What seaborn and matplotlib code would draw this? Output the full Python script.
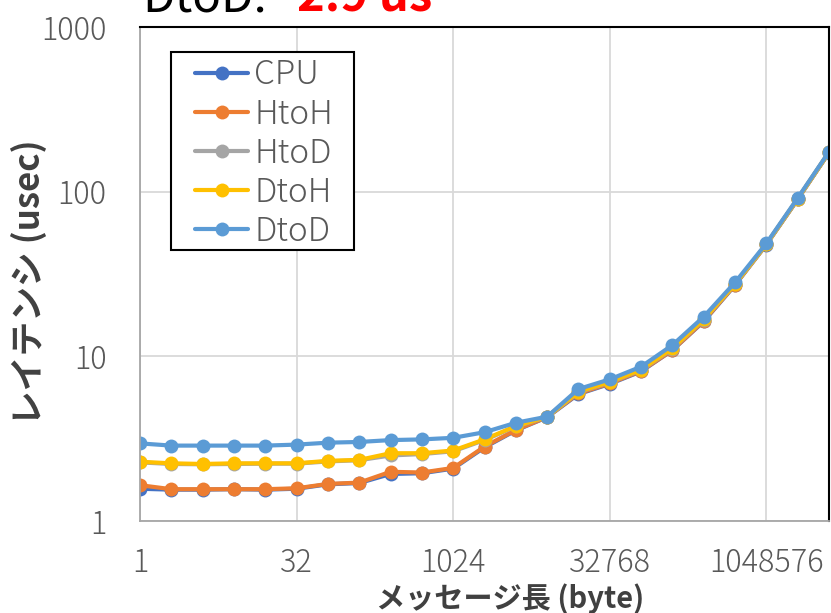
import matplotlib
matplotlib.use("Agg")
import matplotlib.pyplot as plt
import matplotlib.ticker as mticker
from matplotlib.patches import Rectangle
import pandas as pd
import seaborn as sns

# message sizes (byte) and latencies (usec)
sizes = [1, 2, 4, 8, 16, 32, 64, 128, 256, 512, 1024, 2048, 4096, 8192,
         16384, 32768, 65536, 131072, 262144, 524288, 1048576, 2097152, 4194304]
cpu = [1.57, 1.55, 1.55, 1.56, 1.55, 1.57, 1.67, 1.70, 1.93, 1.95, 2.08, 2.80,
       3.55, 4.27, 5.90, 6.80, 8.10, 10.9, 16.3, 27.1, 47.7, 89.9, 172.8]
htoh = [1.65, 1.56, 1.56, 1.56, 1.56, 1.58, 1.68, 1.71, 1.99, 1.97, 2.10, 2.83,
        3.57, 4.28, 5.95, 6.85, 8.15, 10.9, 16.4, 27.2, 47.8, 90.0, 173.0]
htod = [2.27, 2.22, 2.21, 2.22, 2.23, 2.23, 2.30, 2.34, 2.50, 2.55, 2.65, 3.10,
        3.75, 4.28, 6.05, 6.95, 8.25, 11.1, 16.7, 27.4, 47.9, 90.3, 173.4]
dtoh = [2.29, 2.24, 2.22, 2.24, 2.24, 2.24, 2.32, 2.35, 2.58, 2.58, 2.68, 3.13,
        3.77, 4.30, 6.10, 7.00, 8.30, 11.2, 16.8, 27.5, 48.0, 90.5, 173.5]
dtod = [2.96, 2.87, 2.87, 2.87, 2.87, 2.91, 2.99, 3.02, 3.10, 3.13, 3.20, 3.46,
        3.95, 4.30, 6.33, 7.25, 8.65, 11.7, 17.4, 28.1, 48.5, 91.4, 174.7]

series = {"CPU": cpu, "HtoH": htoh, "HtoD": htod, "DtoH": dtoh, "DtoD": dtod}
colors = {"CPU": "#4472C4", "HtoH": "#ED7D31", "HtoD": "#A5A5A5",
          "DtoH": "#FFC000", "DtoD": "#5B9BD5"}
xticks = [1, 32, 1024, 32768, 1048576]
yticks = [1, 10, 100, 1000]

sns.set_style("white")
plt.rcParams["font.family"] = ["Noto Sans CJK JP", "DejaVu Sans"]

df = pd.concat(
    [pd.DataFrame({"size": sizes, "latency": v, "kind": k}) for k, v in series.items()],
    ignore_index=True,
)

fig = plt.figure(figsize=(8.31, 6.13), dpi=100)
ax = fig.add_axes([140 / 831, 92 / 613, 689 / 831, 494 / 613])

sns.lineplot(data=df, x="size", y="latency", hue="kind", palette=colors,
             hue_order=list(series), marker="o", markersize=10, markeredgewidth=0,
             linewidth=3, ax=ax, legend=False)

ax.set_xscale("log", base=2)
ax.set_yscale("log")
ax.set_xlim(1, 4194304)
ax.set_ylim(1, 1000)
ax.xaxis.set_major_locator(mticker.FixedLocator(xticks))
ax.xaxis.set_minor_locator(mticker.NullLocator())
ax.xaxis.set_major_formatter(mticker.FixedFormatter([str(t) for t in xticks]))
ax.yaxis.set_major_locator(mticker.FixedLocator(yticks))
ax.yaxis.set_minor_locator(mticker.NullLocator())
ax.yaxis.set_major_formatter(mticker.FixedFormatter([str(t) for t in yticks]))
ax.grid(True, color="#D9D9D9", linewidth=1.3)
ax.tick_params(axis="both", length=0, labelsize=22, labelcolor="#595959")
ax.tick_params(axis="x", pad=19)
ax.tick_params(axis="y", pad=24)
for lbl in ax.get_xticklabels() + ax.get_yticklabels():
    lbl.set_fontweight("light")

for side in ("left", "bottom"):
    ax.spines[side].set_color("#A6A6A6")
    ax.spines[side].set_linewidth(1.3)
for side in ("top", "right"):
    ax.spines[side].set_color("black")
    ax.spines[side].set_linewidth(1.5)

ax.set_xlabel("メッセージ長 (byte)", fontsize=21, fontweight="bold", color="#404040")
ax.xaxis.set_label_coords(0.537, -0.127)
ax.set_ylabel("レイテンシ (usec)", fontsize=25, fontweight="bold", color="#404040")
ax.yaxis.set_label_coords(-0.135, 0.484)

# legend box drawn separately so the frame has Excel-like side padding
ax.add_patch(Rectangle((0.045, 0.5486), 0.2655, 0.4004, transform=ax.transAxes,
                       facecolor="white", edgecolor="black", linewidth=1.5, zorder=4))
handles = [plt.Line2D([], [], color=colors[k], marker="o", markersize=10,
                      markeredgewidth=0, linewidth=3) for k in series]
leg = ax.legend(handles, list(series), loc="upper left",
                bbox_to_anchor=((195 - 140) / 689, (521 - 58) / 494),
                fontsize=24, frameon=False, handlelength=1.6,
                handletextpad=0.18, labelspacing=0.14, borderpad=0, borderaxespad=0)
leg.set_zorder(5)
for t in leg.get_texts():
    t.set_color("#595959")
    t.set_fontweight("light")

fig.text(142 / 831, 1 - 11 / 613, "DtoD:", fontsize=34, color="black", va="baseline")
fig.text(297 / 831, 1 - 11 / 613, "2.9 us", fontsize=34, color="red",
         fontweight="bold", va="baseline")

fig.savefig("out.png", dpi=100)
